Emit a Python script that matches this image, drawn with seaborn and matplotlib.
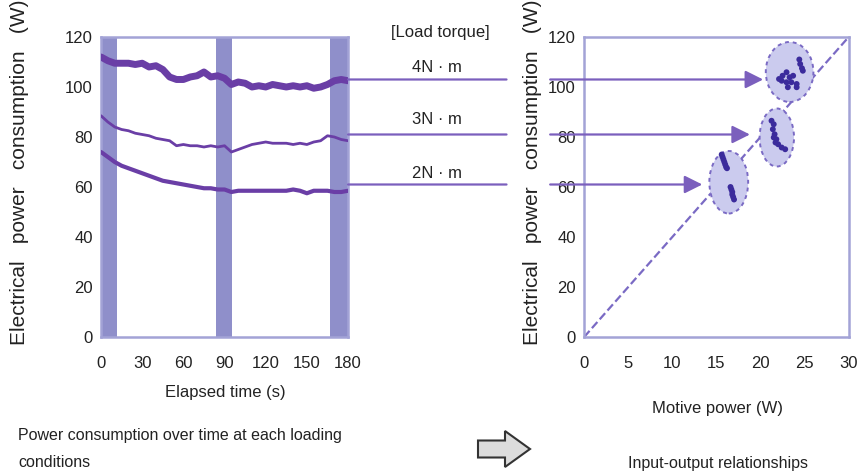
import numpy as np
import pandas as pd
import matplotlib
matplotlib.use("Agg")
import matplotlib.pyplot as plt
import seaborn as sns
from matplotlib.patches import Ellipse, ConnectionPatch, FancyArrow

# ---------------- data: left panel (time series) ----------------
time_s = list(range(0, 181, 5))
p_4nm = [112, 110.5, 109.5, 109.5, 109.5, 109, 109.5, 108, 108.5, 107, 104, 103, 103,
         104, 104.5, 106, 104, 104.5, 103.5, 101, 102, 101.5, 100, 100.5, 100, 101,
         100.5, 100, 100.5, 100, 100.5, 99.5, 100, 101, 102.5, 103, 102.5]
p_3nm = [88.5, 86, 84, 83, 82.5, 81.5, 81, 80.5, 79.5, 79, 78.5, 76.5, 77, 76.5, 76.5,
         76, 76.5, 76, 76.5, 74, 75, 76, 77, 77.5, 78, 77.5, 77.5, 77.5, 77, 77.5, 77,
         78, 78.5, 80.5, 80, 79, 78.5]
p_2nm = [74, 72, 70, 68.5, 67.5, 66.5, 65.5, 64.5, 63.5, 62.5, 62, 61.5, 61, 60.5, 60,
         59.5, 59.5, 59, 59, 58, 58.5, 58.5, 58.5, 58.5, 58.5, 58.5, 58.5, 58.5, 59,
         58.5, 57.5, 58.5, 58.5, 58.5, 58, 58, 58.5]
torque_labels = ["2N · m", "3N · m", "4N · m"]
band_start = [0, 84, 167]
band_end = [12, 95.5, 180]

# ---------------- data: right panel (input-output) ----------------
motive_2 = [15.6, 15.7, 15.8, 15.9, 16.0, 16.1, 16.2, 16.6, 16.7, 16.8, 16.8, 16.9, 17.0]
elec_2 = [73, 72, 71, 70, 69, 68, 67.5, 60, 59, 58, 57, 56, 55]
motive_3 = [21.25, 21.5, 21.4, 21.6, 21.8, 21.5, 22.0, 22.4, 22.8, 21.7]
elec_3 = [86.5, 85.1, 83.1, 81.1, 79.1, 79.8, 77.1, 75.8, 75.1, 77.8]
motive_4 = [22.5, 22.95, 23.3, 23.7, 22.4, 22.95, 23.5, 24.1, 23.1, 24.1, 22.1,
            24.4, 24.5, 24.7, 24.8]
elec_4 = [104.5, 105.9, 103.9, 104.5, 102.5, 101.9, 101.9, 101.2, 99.9, 99.9, 103.2,
          111, 109.2, 107.5, 106.5]
ellipse_cx = [16.4, 21.85, 23.3]
ellipse_cy = [61.9, 79.8, 106.0]
ellipse_w = [4.4, 3.9, 5.4]
ellipse_h = [25, 23.2, 24]
level_w = [61, 81, 103]          # connector heights (W)
arrow_tip = [13.4, 18.8, 20.3]   # arrow tip on motive-power axis
ref_x = [0, 30]
ref_y = [0, 120]

# ---------------- style ----------------
sns.set_theme(style="white")
plt.rcParams['font.family'] = ['Liberation Sans', 'DejaVu Sans']

SPINE = "#a3a3d6"
BAND = "#8f8fca"
LINE = "#6a3ea6"
ARROW = "#7b5fbd"
TXT = "#222222"

fig = plt.figure(figsize=(8.59, 4.73), dpi=100)
ax1 = fig.add_axes([0.1176, 0.2875, 0.2876, 0.6343])
ax2 = fig.add_axes([0.680, 0.2875, 0.308, 0.6343])

# left panel
for s, e in zip(band_start, band_end):
    ax1.axvspan(s, e, color=BAND, lw=0, zorder=1)
series = [p_2nm, p_3nm, p_4nm]
widths = [3.0, 2.0, 5.0]
for vals, lab, lw in zip(series, torque_labels, widths):
    df = pd.DataFrame({"t": time_s, "p": vals})
    sns.lineplot(data=df, x="t", y="p", ax=ax1, color=LINE, lw=lw, zorder=3)
ax1.set_xlim(0, 180)
ax1.set_ylim(0, 120)
ax1.set_xticks([0, 30, 60, 90, 120, 150, 180])
ax1.set_yticks([0, 20, 40, 60, 80, 100, 120])
ax1.set_xlabel("")
ax1.set_ylabel("")

# right panel
sns.lineplot(x=ref_x, y=ref_y, ax=ax2, color="#7a6ac4", lw=1.6, dashes=(3, 3),
             linestyle="--", zorder=2)
for cx, cy, w, h in zip(ellipse_cx, ellipse_cy, ellipse_w, ellipse_h):
    ax2.add_patch(Ellipse((cx, cy), w, h, facecolor="#cbcbee", edgecolor="#7a6ac4",
                          lw=1.4, ls=(0, (2, 2)), zorder=3))
for mx, ey in [(motive_2, elec_2), (motive_3, elec_3), (motive_4, elec_4)]:
    sns.scatterplot(x=mx, y=ey, ax=ax2, color="#3b2b9c", s=18, edgecolor="none",
                    zorder=4)
ax2.set_xlim(0, 30)
ax2.set_ylim(0, 120)
ax2.set_xticks([0, 5, 10, 15, 20, 25, 30])
ax2.set_yticks([0, 20, 40, 60, 80, 100, 120])

for ax in (ax1, ax2):
    for sp in ax.spines.values():
        sp.set_color(SPINE)
        sp.set_linewidth(1.8)
    ax.tick_params(direction="in", length=4, width=1.2, color=SPINE,
                   labelsize=12, labelcolor=TXT)
    ax.tick_params(axis="x", pad=14)
    ax.tick_params(axis="y", pad=6)
    ax.grid(False)

# connectors & arrows
for lvl, tip in zip(level_w, arrow_tip):
    con = ConnectionPatch(xyA=(180, lvl), coordsA=ax1.transData,
                          xyB=(-8.8, lvl), coordsB=ax2.transData,
                          color=ARROW, lw=1.6)
    fig.add_artist(con)
    ax2.annotate("", xy=(tip, lvl), xytext=(-3.85, lvl),
                 arrowprops=dict(arrowstyle="-|>,head_length=0.9,head_width=0.45",
                                 color=ARROW, lw=1.6, shrinkA=0, shrinkB=0),
                 annotation_clip=False)

# texts
W, H = 859, 473
def ftext(x, y, s, **kw):
    fig.text(x / W, 1 - y / H, s, color=TXT, **kw)

ftext(440, 32, "[Load torque]", ha="center", va="center", fontsize=12)
for lab, y in zip(torque_labels[::-1], [68, 120, 173]):
    ftext(437, y, lab, ha="center", va="center", fontsize=12)

ftext(20, 172, "Electrical   power   consumption   (W)", rotation=90,
      ha="center", va="center", fontsize=15)
ftext(532, 172, "Electrical   power   consumption   (W)", rotation=90,
      ha="center", va="center", fontsize=15)
ftext(225, 393, "Elapsed time (s)", ha="center", va="center", fontsize=12)
ftext(718, 408, "Motive power (W)", ha="center", va="center", fontsize=12)
ftext(18, 435, "Power consumption over time at each loading", ha="left",
      va="center", fontsize=11.5)
ftext(18, 462, "conditions", ha="left", va="center", fontsize=11.5)
ftext(718, 463, "Input-output relationships", ha="center", va="center", fontsize=11.5)

fig.add_artist(FancyArrow(478 / W, 1 - 449 / H, 52 / W, 0, width=17 / H,
                          head_width=36 / H, head_length=25 / W,
                          length_includes_head=True, transform=fig.transFigure,
                          facecolor="#dcdcdc", edgecolor="#333333", lw=1.5))

fig.savefig("out.png", dpi=100)
